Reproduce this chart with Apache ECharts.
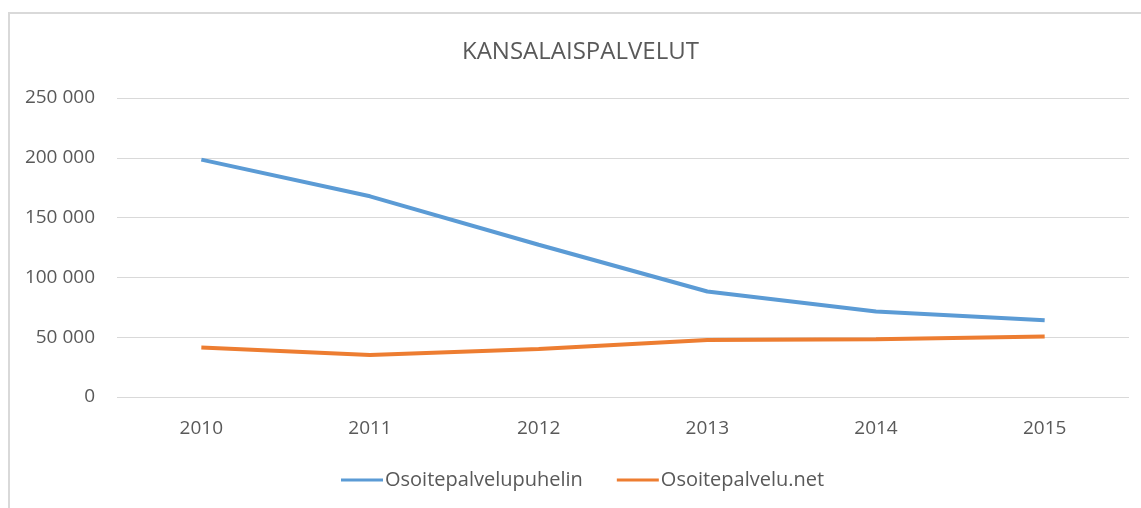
<!DOCTYPE html>
<html>
<head>
<meta charset="utf-8">
<script src="https://cdn.jsdelivr.net/npm/echarts@6/dist/echarts.min.js"></script>
<style>
  html, body { margin: 0; padding: 0; background: #fff; overflow: hidden; }
  #frame { position: absolute; left: 8px; top: 12px; width: 1200px; height: 600px; border: 2px solid #d9d9d9; box-sizing: border-box; }
  #chart { position: absolute; left: 0; top: 0; width: 1141px; height: 508px; }
</style>
</head>
<body>
<div id="frame"></div>
<div id="chart"></div>
<script>
const years = ['2010', '2011', '2012', '2013', '2014', '2015']
const puhelin = [198500, 167800, 127300, 88200, 71400, 64200]
const net = [41300, 35200, 40200, 47700, 48300, 50500]
const seriesNames = ['Osoitepalvelupuhelin', 'Osoitepalvelu.net']

const font = "'Open Sans', sans-serif"
const txt = '#595959'

const myChart = echarts.init(document.getElementById('chart'))
myChart.setOption({
  animation: false,
  title: {
    text: 'KANSALAISPALVELUT',
    left: 457,
    top: 35,
    textStyle: { fontFamily: font, fontSize: 24, fontWeight: 'normal', color: txt }
  },
  legend: {
    data: seriesNames,
    bottom: 13,
    left: 336,
    itemWidth: 42,
    itemHeight: 3,
    itemGap: 34,
    icon: 'rect',
    textStyle: { fontFamily: font, fontSize: 20, color: txt, padding: [0, 0, 0, -3] }
  },
  grid: { left: 117, right: 12, top: 98, bottom: 111 },
  xAxis: {
    type: 'category',
    data: years,
    boundaryGap: true,
    axisLine: { show: false },
    axisTick: { show: false },
    axisLabel: { fontFamily: font, fontSize: 19, color: txt, margin: 22 }
  },
  yAxis: {
    type: 'value',
    min: 0,
    max: 250000,
    interval: 50000,
    axisLine: { show: false },
    axisTick: { show: false },
    splitLine: { lineStyle: { color: '#d9d9d9', width: 1 } },
    axisLabel: {
      fontFamily: font, fontSize: 19, color: txt, margin: 22,
      formatter: v => String(v).replace(/\B(?=(\d{3})+(?!\d))/g, ' ')
    }
  },
  series: [
    {
      name: seriesNames[0],
      type: 'line',
      data: puhelin,
      showSymbol: false,
      lineStyle: { width: 4, color: '#5b9bd5' },
      itemStyle: { color: '#5b9bd5' }
    },
    {
      name: seriesNames[1],
      type: 'line',
      data: net,
      showSymbol: false,
      lineStyle: { width: 4, color: '#ed7d31' },
      itemStyle: { color: '#ed7d31' }
    }
  ]
})
</script>
</body>
</html>
